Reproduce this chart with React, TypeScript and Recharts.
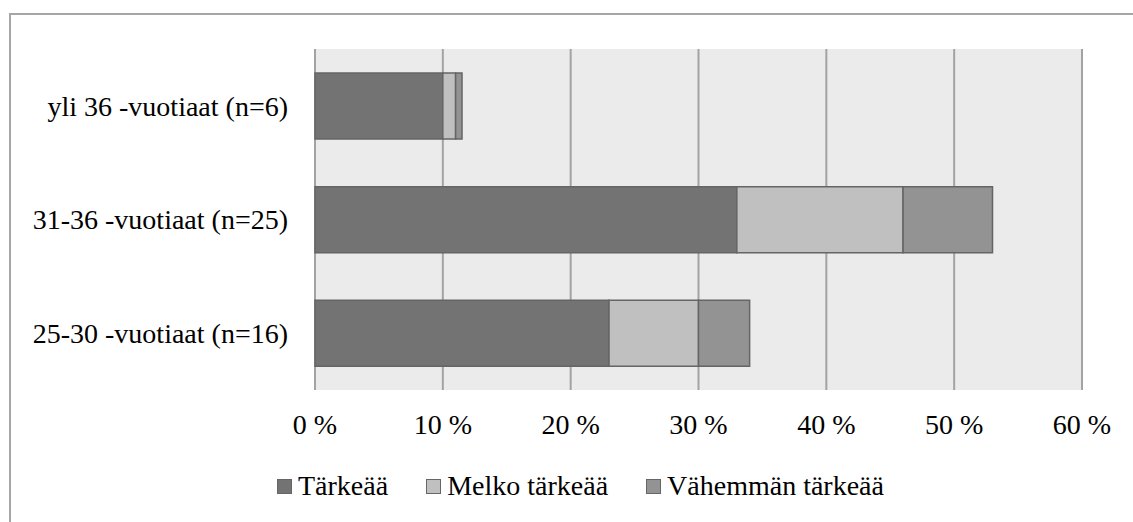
import { Bar, BarChart, CartesianGrid, XAxis, YAxis, Legend } from "recharts";

const groups = ["25-30 -vuotiaat (n=16)", "31-36 -vuotiaat (n=25)", "yli 36 -vuotiaat (n=6)"];
const tarkeaa = [23, 33, 10];
const melkoTarkeaa = [7, 13, 1];
const vahemmanTarkeaa = [4, 7, 0.5];
const xTicks = [0, 10, 20, 30, 40, 50, 60];

const series = [
  { key: "tarkeaa", name: "Tärkeää", color: "#737373" },
  { key: "melko", name: "Melko tärkeää", color: "#c0c0c0" },
  { key: "vahemman", name: "Vähemmän tärkeää", color: "#939393" },
];

const data = groups.map((g, i) => ({
  group: g,
  tarkeaa: tarkeaa[i],
  melko: melkoTarkeaa[i],
  vahemman: vahemmanTarkeaa[i],
}));

const FONT = '"Liberation Serif", serif';

function LegendBox() {
  return (
    <div style={{ display: "flex", alignItems: "center", height: 30, paddingLeft: 277, fontFamily: FONT, fontSize: 28, color: "#000" }}>
      {series.map((s, i) => (
        <div key={s.key} style={{ display: "flex", alignItems: "center", marginRight: i < series.length - 1 ? 38 : 0 }}>
          <span
            style={{
              width: 13,
              height: 13,
              background: s.color,
              border: "1.5px solid #666",
              marginRight: 6,
              display: "inline-block",
            }}
          />
          <span style={{ lineHeight: "30px" }}>{s.name}</span>
        </div>
      ))}
    </div>
  );
}

export default function App() {
  return (
    <div style={{ position: "absolute", left: 0, top: 0, width: 1133, height: 522, overflow: "hidden", background: "#fff" }}>
      <div
        style={{
          position: "absolute",
          left: 9,
          top: 13,
          width: 1200,
          height: 600,
          border: "2px solid #a6a6a6",
        }}
      />
      <div style={{ position: "absolute", left: 0, top: 0 }}>
        <BarChart
          width={1133}
          height={522}
          data={data}
          layout="vertical"
          margin={{ top: 49, right: 51, left: 0, bottom: 21 }}
        >
          <CartesianGrid horizontal={false} fill="#ebebeb" stroke="#a3a3a3" strokeWidth={2} />
          <XAxis
            type="number"
            domain={[0, 60]}
            ticks={xTicks}
            tickFormatter={(v) => `${v} %`}
            axisLine={false}
            tickLine={false}
            tickSize={0}
            tickMargin={24}
            height={81}
            interval={0}
            tick={{ fill: "#000", fontSize: 28, fontFamily: FONT }}
          />
          <YAxis
            type="category"
            dataKey="group"
            reversed
            width={315}
            axisLine={false}
            tickLine={false}
            tickSize={0}
            tickMargin={27}
            tick={{ fill: "#000", fontSize: 28, fontFamily: FONT }}
          />
          <Legend verticalAlign="bottom" content={() => <LegendBox />} wrapperStyle={{ height: 30 }} />
          {series.map((s) => (
            <Bar
              key={s.key}
              dataKey={s.key}
              name={s.name}
              stackId="a"
              fill={s.color}
              stroke="#656565"
              strokeWidth={1.5}
              barSize={66}
              isAnimationActive={false}
            />
          ))}
        </BarChart>
      </div>
    </div>
  );
}
